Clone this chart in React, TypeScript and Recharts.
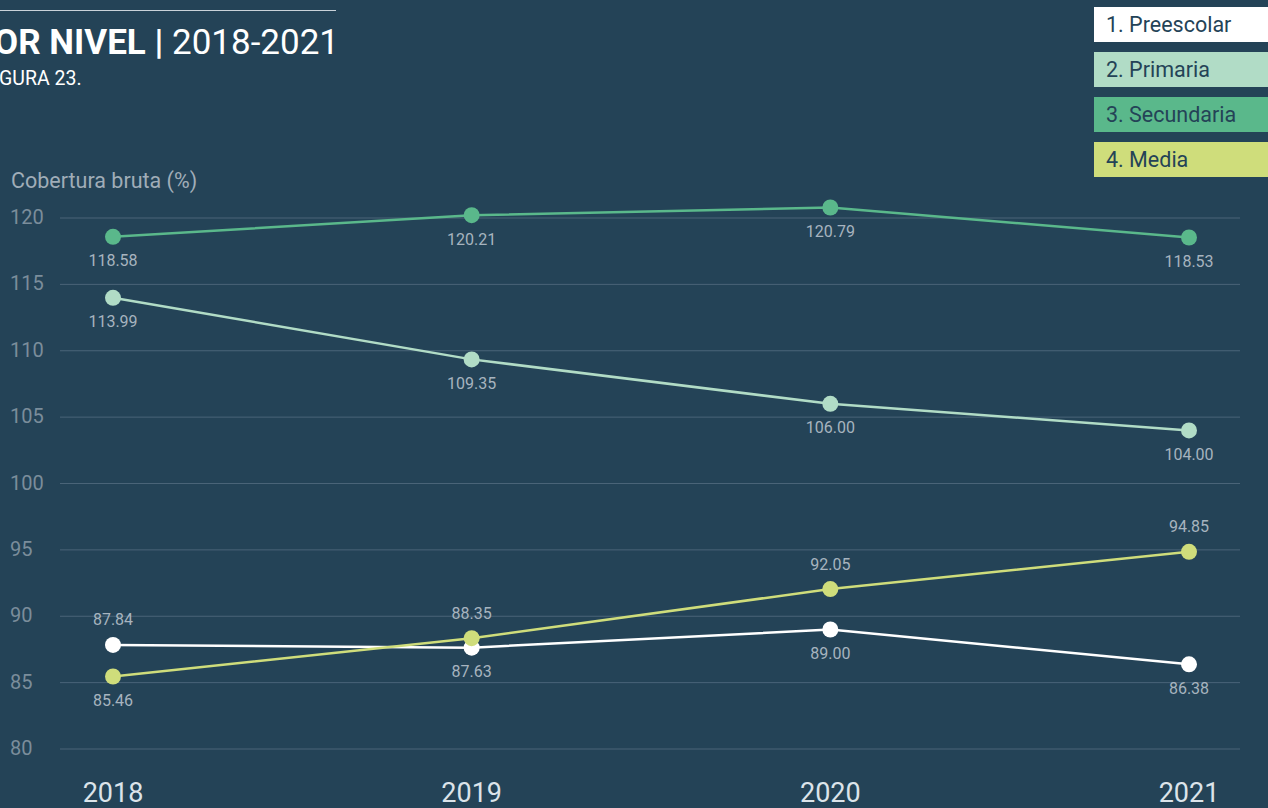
import React from "react";
import { LineChart, Line, XAxis, YAxis, CartesianGrid } from "recharts";

const years = ["2018", "2019", "2020", "2021"];
const preescolar = [87.84, 87.63, 89.0, 86.38];
const primaria = [113.99, 109.35, 106.0, 104.0];
const secundaria = [118.58, 120.21, 120.79, 118.53];
const media = [85.46, 88.35, 92.05, 94.85];
const yTicks = [80, 85, 90, 95, 100, 105, 110, 115, 120];

// where each value label sits relative to its point
const preescolarPos = ["above", "below", "below", "below"];
const primariaPos = ["below", "below", "below", "below"];
const secundariaPos = ["below", "below", "below", "below"];
const mediaPos = ["below", "above", "above", "above"];

const BG = "#244357";
const FONT = "Roboto, sans-serif";

const series = [
  { key: "preescolar", name: "1. Preescolar", color: "#ffffff", pos: preescolarPos },
  { key: "primaria", name: "2. Primaria", color: "#b1dcc6", pos: primariaPos },
  { key: "secundaria", name: "3. Secundaria", color: "#5ab88b", pos: secundariaPos },
  { key: "media", name: "4. Media", color: "#cfdd7b", pos: mediaPos },
];

const data = years.map((year, i) => ({
  year,
  preescolar: preescolar[i],
  primaria: primaria[i],
  secundaria: secundaria[i],
  media: media[i],
}));

function makeLabel(pos: string[]) {
  return (props: any) => {
    const { x, y, value, index } = props;
    const dy = pos[index] === "above" ? -25 : 24;
    return (
      <text
        x={x}
        y={y + dy}
        textAnchor="middle"
        dominantBaseline="central"
        fill="#a7b4bf"
        fontSize={16}
        fontFamily={FONT}
      >
        {Number(value).toFixed(2)}
      </text>
    );
  };
}

const XTick = (props: any) => {
  const { x, y, payload } = props;
  return (
    <text x={x} y={y + 53} textAnchor="middle" fill="#dce4ea" fontSize={27} fontFamily={FONT}>
      {payload.value}
    </text>
  );
};

const YTick = (props: any) => {
  const { y, payload } = props;
  return (
    <text x={10} y={y - 1} textAnchor="start" dominantBaseline="central" fill="#7b8d9b" fontSize={20} fontFamily={FONT}>
      {payload.value}
    </text>
  );
};

export default function App() {
  return (
    <div
      style={{
        position: "absolute",
        left: 0,
        top: 0,
        width: 1268,
        height: 808,
        background: BG,
        overflow: "hidden",
        fontFamily: FONT,
      }}
    >
      <div style={{ position: "absolute", left: 0, top: 10, width: 336, height: 1, background: "#c9d2d9" }} />
      <div
        style={{
          position: "absolute",
          right: 1268 - 339,
          top: 22,
          whiteSpace: "nowrap",
          color: "#ffffff",
          fontSize: 35,
          lineHeight: "42px",
        }}
      >
        <b>COBERTURA BRUTA POR NIVEL |</b> 2018-2021
      </div>
      <div
        style={{
          position: "absolute",
          left: -17,
          top: 67,
          whiteSpace: "nowrap",
          color: "#ffffff",
          fontSize: 19.5,
          lineHeight: "24px",
        }}
      >
        FIGURA 23.
      </div>

      {series.map((s, i) => (
        <div
          key={s.key}
          style={{
            position: "absolute",
            left: 1094,
            top: 7 + i * 45,
            width: 180,
            height: 35,
            background: s.color,
            color: BG,
            fontSize: 21.5,
            lineHeight: "35px",
            paddingLeft: 12,
            boxSizing: "border-box",
          }}
        >
          {s.name}
        </div>
      ))}

      <div
        style={{
          position: "absolute",
          left: 11,
          top: 167,
          color: "#a0adb8",
          fontSize: 21.5,
          lineHeight: "28px",
        }}
      >
        Cobertura bruta (%)
      </div>

      <div style={{ position: "absolute", left: 0, top: 0 }}>
        <LineChart width={1268} height={808} data={data} margin={{ top: 191.45, right: 28, bottom: 0, left: 0 }}>
          <CartesianGrid horizontal vertical={false} horizontalValues={yTicks} stroke="#4a6478" strokeWidth={1} />
          <XAxis
            dataKey="year"
            axisLine={false}
            tickLine={false}
            tickSize={0}
            tickMargin={0}
            height={59}
            padding={{ left: 53, right: 51 }}
            tick={<XTick />}
            interval={0}
          />
          <YAxis
            domain={[80, 122]}
            ticks={yTicks}
            width={60}
            axisLine={false}
            tickLine={false}
            tick={<YTick />}
            interval={0}
          />
          {series.map((s) => (
            <Line
              key={s.key}
              type="linear"
              dataKey={s.key}
              stroke={s.color}
              strokeWidth={2.5}
              dot={{ r: 8, fill: s.color, stroke: "none" }}
              activeDot={false}
              label={makeLabel(s.pos)}
              isAnimationActive={false}
            />
          ))}
        </LineChart>
      </div>
    </div>
  );
}
